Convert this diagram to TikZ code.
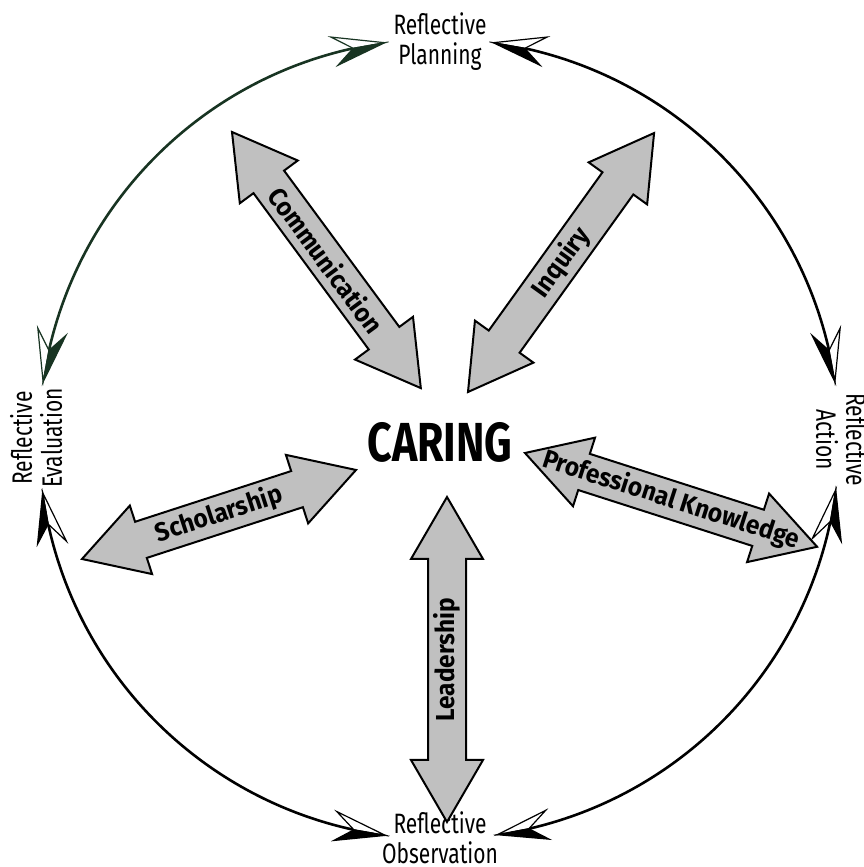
\documentclass[tikz,border=0pt]{standalone}
\usepackage{fontspec}
\setmainfont{Fira Sans}
\newfontfamily\condf[FakeStretch=0.75]{Fira Sans}
\newfontfamily\caringf[FakeStretch=0.78]{Fira Sans}
\newfontfamily\arrf[FakeStretch=0.94]{Fira Sans}
\usetikzlibrary{calc}
\definecolor{dkgreen}{RGB}{24,52,34}
\definecolor{arrgray}{RGB}{192,192,192}
\tikzset{
  cyc/.style={line width=2.6pt},
  bigarr/.style={draw=black, fill=arrgray, line width=2pt, line join=miter},
  arrlabel/.style={font=\arrf\bfseries\fontsize{26}{26}\selectfont, inner sep=0pt},
  reflabel/.style={font=\condf\fontsize{28}{30}\selectfont, align=center, inner sep=0pt},
  caringlabel/.style={font=\caringf\bfseries\fontsize{55}{55}\selectfont, inner sep=0pt},
}
\newcommand\cyclehead[4]{%
  \begin{scope}[shift={(#1)}, rotate=#2, yscale=#3]
    \filldraw[draw=#4, fill=white, line width=1.2pt, line join=miter] (0,0) -- (-52,15) -- (-32,0) -- cycle;
    \filldraw[draw=#4, fill=#4, line width=1.2pt, line join=miter] (0,0) -- (-32,0) -- (-50,-14) -- cycle;
  \end{scope}}
\newcommand\bigarrow[5]{%
  \begin{scope}[shift={(#1)}, rotate=#2]
    \draw[bigarr] (0,0) -- (62,36) -- (62,19) -- (#3-62,19) -- (#3-62,36) -- (#3,0)
      -- (#3-62,-36) -- (#3-62,-19) -- (62,-19) -- (62,-36) -- cycle;
    \node[arrlabel, rotate=#2] (#4) at (#3/2,0) {#5};
  \end{scope}}
\begin{document}
\begin{tikzpicture}[x=1pt,y=1pt]
\useasboundingbox (0,0) rectangle (863,867);
\coordinate (C) at (439,428);
% arc end points
\coordinate (g1) at ($(C)+(101.8:400)$);
\coordinate (k1) at ($(C)+(78.2:400)$);
\coordinate (k2) at ($(C)+(-11.3:400)$);
\coordinate (k3) at ($(C)+(191.7:400)$);
% tips
\coordinate (tPL) at ($(C)+(97.8:400)$);
\coordinate (tEU) at ($(C)+(171.8:400)$);
\coordinate (tPR) at ($(C)+(82.2:400)$);
\coordinate (tAU) at ($(C)+(8.2:400)$);
\coordinate (tAL) at ($(C)+(-7.3:400)$);
\coordinate (tOR) at ($(C)+(-81.6:400)$);
\coordinate (tEL) at ($(C)+(187.7:400)$);
\coordinate (tOL) at ($(C)+(262.3:400)$);
% arcs
\draw[cyc, dkgreen] (g1) arc[start angle=101.8, end angle=167.8, radius=400];
\draw[cyc, black] (k1) arc[start angle=78.2, end angle=12.2, radius=400];
\draw[cyc, black] (k2) arc[start angle=-11.3, end angle=-77.6, radius=400];
\draw[cyc, black] (k3) arc[start angle=191.7, end angle=258.3, radius=400];
% arrowheads
\cyclehead{tPL}{10.1}{1}{dkgreen}
\cyclehead{tEU}{259.5}{-1}{dkgreen}
\cyclehead{tPR}{169.9}{-1}{black}
\cyclehead{tAU}{-79.5}{1}{black}
\cyclehead{tAL}{80.4}{1}{black}
\cyclehead{tOR}{-169.3}{-1}{black}
\cyclehead{tEL}{100}{-1}{black}
\cyclehead{tOL}{350}{1}{black}
% labels
\node[reflabel] (plan) at (440,825) {Reflective\\Planning};
\node[reflabel] (obs) at (440,29) {Reflective\\Observation};
\node[reflabel, rotate=90] (eval) at (36,429) {Reflective\\Evaluation};
\node[reflabel, rotate=-90] (act) at (842,427) {Reflective\\Action};
\node[caringlabel] (caring) at (440,425) {CARING};
% big arrows
\coordinate (comA) at (232,735);
\coordinate (inqA) at (468,475);
\coordinate (schA) at (82,308);
\coordinate (leaA) at (447,45);
\coordinate (proA) at (525,414);
\bigarrow{comA}{-53.6}{318.2}{comm}{Communication}
\bigarrow{inqA}{54.3}{318.9}{inq}{Inquiry}
\bigarrow{schA}{18.0}{288.1}{schol}{Scholarship}
\bigarrow{leaA}{90}{325}{lead}{Leadership}
\bigarrow{proA}{-17.8}{306.8}{prof}{Professional Knowledge}
\end{tikzpicture}
\end{document}
